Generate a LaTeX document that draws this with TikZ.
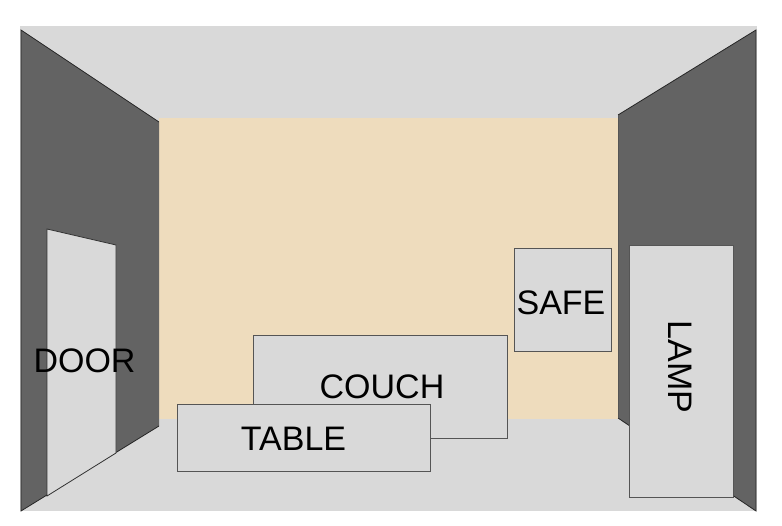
\documentclass[tikz,border=0pt]{standalone}
\usepackage{fontspec}
\setmainfont{Liberation Sans}
\definecolor{lgrey}{HTML}{D9D9D9}
\definecolor{dgrey}{HTML}{636363}
\definecolor{beige}{HTML}{EEDCBD}
\definecolor{edgegrey}{HTML}{555555}
\begin{document}
\begin{tikzpicture}[x=1pt,y=-1pt,
  walledge/.style={draw=black!85,line width=0.8pt,line join=miter},
  item/.style={fill=lgrey,draw=edgegrey,line width=0.9pt,inner sep=0pt},
  lbl/.style={font=\fontsize{34}{34}\selectfont,text=black,inner sep=0pt}]
\useasboundingbox (0,0) rectangle (782,526);
% floor / ceiling background
\fill[lgrey] (20,26) rectangle (757,511);
% back wall
\fill[beige] (159,118) rectangle (618,419);
% left wall
\fill[dgrey] (21,30) -- (159,122) -- (159,426) -- (21,511) -- cycle;
\draw[walledge] (159,426) -- (21,511) -- (21,30) -- (159,122);
% right wall
\fill[dgrey] (756,30) -- (618,115) -- (618,418) -- (756,511) -- cycle;
\draw[walledge] (618,115) -- (756,30) -- (756,511) -- (618,418);
\draw[edgegrey,line width=0.6pt] (618,115) -- (618,418);
% door
\draw[fill=lgrey,draw=black!80,line width=0.8pt] (47,229) -- (116,245) -- (116,453) -- (47,496) -- cycle;
\node[lbl] (door) at (84.5,360.5) {DOOR};
% furniture
\node[item,minimum width=254pt,minimum height=103pt] (couch) at (380,386.5) {};
\node[lbl] (couchlbl) at ([shift={(2pt,0pt)}]couch.center) {COUCH};
\node[item,minimum width=253pt,minimum height=67pt] (table) at (303.5,437.5) {};
\node[lbl] (tablelbl) at ([shift={(-10pt,-1pt)}]table.center) {TABLE};
\node[item,minimum width=97pt,minimum height=103pt] (safe) at (562.5,299.5) {};
\node[lbl] (safelbl) at ([shift={(-1.5pt,-3.5pt)}]safe.center) {SAFE};
\node[item,minimum width=104pt,minimum height=252pt] (lamp) at (681,371) {};
\node[lbl,rotate=-90] (lamplbl) at ([shift={(-0.5pt,4pt)}]lamp.center) {LAMP};
\end{tikzpicture}
\end{document}
